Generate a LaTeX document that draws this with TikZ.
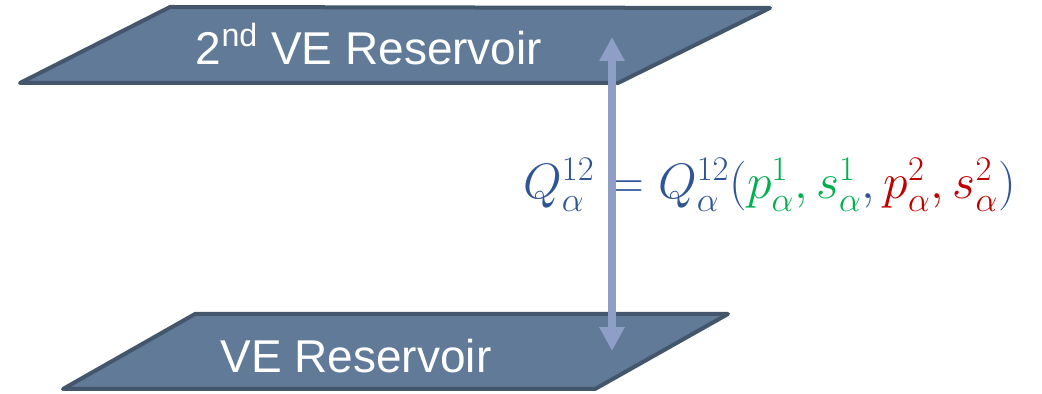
\documentclass[tikz,border=0pt]{standalone}
\usepackage{fontspec}
\setmainfont{Liberation Sans}
\usetikzlibrary{arrows.meta}

\definecolor{resfill}{RGB}{96,122,152}
\definecolor{resedge}{RGB}{68,86,108}
\definecolor{flowcol}{RGB}{143,158,198}
\definecolor{eqblue}{RGB}{47,85,151}
\definecolor{eqgreen}{RGB}{0,176,80}
\definecolor{eqred}{RGB}{192,0,0}

\begin{document}
\begin{tikzpicture}[
    x=0.5pt, y=-0.5pt,
    reservoir/.style={fill=resfill, draw=resedge, line width=2pt, line join=round},
    label/.style={text=white, font=\fontsize{23}{26}\selectfont, inner sep=0pt},
    flow/.style={<->, draw=flowcol, line width=4pt,
        >={Triangle[width=12pt,length=12pt]}},
    formula/.style={font=\fontsize{26}{30}\selectfont, inner sep=0pt}
]
\useasboundingbox (0,0) rectangle (1042,394);

% Reservoirs
\draw[reservoir] (20,83) -- (170,7) -- (770,8) -- (618,83) -- cycle;
\draw[reservoir] (63,389) -- (195,314) -- (728,314) -- (595,389) -- cycle;

% Labels
\node[label, anchor=base] (upper) at (369,65) {2\textsuperscript{nd} VE Reservoir};
\node[label, anchor=base] (lower) at (356,372) {VE Reservoir};

% Coupling
\node[formula, anchor=base west] (coupling) at (523,199)
    {$\color{eqblue}Q_\alpha^{12}=Q_\alpha^{12}(
     {\color{eqgreen}p_\alpha^1,s_\alpha^1},
     {\color{eqred}p_\alpha^2,s_\alpha^2})$};

\coordinate (top) at (612,37);
\coordinate (bottom) at (612,351);
\draw[flow] (bottom) -- (top);

\end{tikzpicture}
\end{document}
